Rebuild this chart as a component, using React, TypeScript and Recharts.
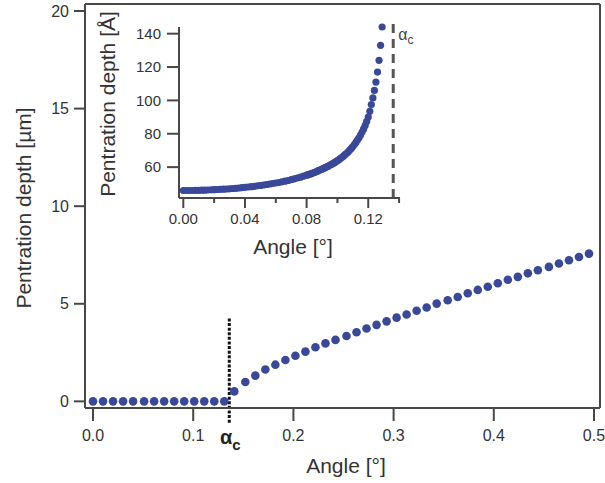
import React from 'react';
import { ScatterChart, Scatter, XAxis, YAxis, ReferenceLine } from 'recharts';

// ---- main panel data ----
const MAIN_ANGLE = [
  0.000, 0.010, 0.020, 0.030, 0.040, 0.051, 0.061, 0.071, 0.081, 0.091,
  0.101, 0.111, 0.121, 0.131, 0.141, 0.152, 0.162, 0.172, 0.182, 0.192,
  0.202, 0.212, 0.222, 0.232, 0.242, 0.253, 0.263, 0.273, 0.283, 0.293,
  0.303, 0.313, 0.323, 0.333, 0.343, 0.354, 0.364, 0.374, 0.384, 0.394,
  0.404, 0.414, 0.424, 0.434, 0.444, 0.455, 0.465, 0.475, 0.485, 0.495,
];
const MAIN_DEPTH = [
  0, 0, 0, 0, 0, 0, 0, 0, 0, 0,
  0, 0, 0, 0, 0.51, 0.99, 1.32, 1.63, 1.88, 2.12,
  2.34, 2.55, 2.77, 2.97, 3.15, 3.35, 3.54, 3.73, 3.92, 4.10,
  4.29, 4.45, 4.64, 4.81, 5.01, 5.18, 5.35, 5.54, 5.71, 5.87,
  6.05, 6.23, 6.38, 6.56, 6.72, 6.89, 7.06, 7.23, 7.40, 7.57,
];
const MAIN_X_TICKS = [0, 0.1, 0.2, 0.3, 0.4, 0.5];
const MAIN_Y_TICKS = [0, 5, 10, 15, 20];
const ALPHA_C = 0.136;

// ---- inset data ----
const INSET_ANGLE = [
  0.000, 0.002, 0.004, 0.006, 0.008, 0.010, 0.012, 0.014, 0.016, 0.018,
  0.020, 0.022, 0.024, 0.026, 0.028, 0.030, 0.032, 0.034, 0.036, 0.038,
  0.040, 0.042, 0.044, 0.046, 0.048, 0.050, 0.052, 0.054, 0.056, 0.058,
  0.060, 0.062, 0.064, 0.066, 0.068, 0.070, 0.072, 0.074, 0.076, 0.078,
  0.080, 0.081, 0.082, 0.083, 0.084, 0.085, 0.086, 0.087, 0.088, 0.089,
  0.090, 0.091, 0.092, 0.093, 0.094, 0.095, 0.096, 0.097, 0.098, 0.099,
  0.100, 0.101, 0.102, 0.103, 0.104, 0.105, 0.106, 0.107, 0.108, 0.109,
  0.110, 0.111, 0.112, 0.113, 0.114, 0.115, 0.116, 0.117, 0.118, 0.119,
  0.120, 0.121, 0.122, 0.123, 0.124, 0.125, 0.126, 0.127, 0.128, 0.129,
];
const INSET_DEPTH = [
  46.0, 46.0, 46.0, 46.0, 46.1, 46.1, 46.2, 46.2, 46.3, 46.4,
  46.5, 46.6, 46.7, 46.8, 46.9, 47.0, 47.2, 47.3, 47.5, 47.7,
  47.9, 48.1, 48.3, 48.5, 48.8, 49.0, 49.3, 49.6, 49.9, 50.2,
  50.5, 50.8, 51.2, 51.6, 52.0, 52.5, 53.0, 53.5, 54.0, 54.6,
  55.2, 55.5, 55.8, 56.1, 56.5, 56.8, 57.2, 57.6, 58.0, 58.4,
  58.8, 59.2, 59.7, 60.1, 60.6, 61.1, 61.6, 62.1, 62.7, 63.3,
  63.9, 64.5, 65.2, 65.9, 66.7, 67.5, 68.3, 69.2, 70.2, 71.2,
  72.3, 73.5, 74.8, 76.2, 77.6, 79.2, 81.0, 82.9, 85.0, 87.4,
  90.0, 93.5, 97.5, 101.5, 106, 111, 117, 124, 133, 144,
];
const INSET_X_TICKS = [0, 0.02, 0.04, 0.06, 0.08, 0.1, 0.12, 0.14];
const INSET_X_MAJOR = [0, 0.04, 0.08, 0.12];
const INSET_Y_TICKS = [60, 80, 100, 120, 140];

const FONT = '"Liberation Sans", Arial, Helvetica, sans-serif';
const AX = '#4a4744';
const TXT = '#333333';
const DOT = '#3a4899';

const mainData = MAIN_ANGLE.map((x, i) => ({ x, y: MAIN_DEPTH[i] }));
const insetData = INSET_ANGLE.map((x, i) => ({ x, y: INSET_DEPTH[i] }));

const MainDot = (p: any) => <circle cx={p.cx} cy={p.cy} r={4.3} fill={DOT} />;
const InsetDot = (p: any) => <circle cx={p.cx} cy={p.cy} r={3.6} fill={DOT} />;

const InsetXTick = (props: any) => {
  const { x, y, payload } = props;
  const major = INSET_X_MAJOR.some((m) => Math.abs(m - payload.value) < 1e-9);
  return (
    <g>
      <line x1={x} x2={x} y1={y} y2={y + (major ? 10 : 5)} stroke={AX} strokeWidth={2} />
      {major && (
        <text x={x} y={y + 15} dy="0.71em" textAnchor="middle" fill={TXT} fontSize={15} fontFamily={FONT}>
          {payload.value.toFixed(2)}
        </text>
      )}
    </g>
  );
};

const mainYLabel = () => (
  <text transform="translate(23,208) rotate(-90)" textAnchor="middle" dominantBaseline="central"
    fill={TXT} fontSize={21} fontFamily={FONT}>
    Pentration depth [µm]
  </text>
);
const mainXLabel = () => (
  <text x={346} y={473} textAnchor="middle" fill={TXT} fontSize={21} fontFamily={FONT}>
    Angle [°]
  </text>
);
const insetYLabel = () => (
  <text transform="translate(107,104) rotate(-90)" textAnchor="middle" dominantBaseline="central"
    fill={TXT} fontSize={21} fontFamily={FONT}>
    Pentration depth [Å]
  </text>
);
const insetXLabel = () => (
  <text x={293} y={254} textAnchor="middle" fill={TXT} fontSize={21} fontFamily={FONT}>
    Angle [°]
  </text>
);

const mainAlphaLabel = (props: any) => {
  const vb = props.viewBox || {};
  const x = vb.x ?? 229;
  const bottom = (vb.y ?? 318) + (vb.height ?? 105);
  return (
    <text x={x + 1} y={bottom + 21} textAnchor="middle" fill="#222" fontFamily={FONT} fontWeight="bold">
      <tspan fontSize={20}>α</tspan>
      <tspan fontSize={15} dy={6}>c</tspan>
    </text>
  );
};
const insetAlphaLabel = (props: any) => {
  const vb = props.viewBox || {};
  const x = vb.x ?? 393;
  const top = vb.y ?? 20;
  return (
    <text x={x + 5} y={top + 20} fill="#444" fontFamily={FONT}>
      <tspan fontSize={16}>α</tspan>
      <tspan fontSize={12} dy={4}>c</tspan>
    </text>
  );
};

export default function App() {
  return (
    <div style={{ position: 'absolute', left: 0, top: 0, width: 605, height: 483, background: '#fff' }}>
      <div style={{ position: 'absolute', left: 0, top: 0 }}>
        <ScatterChart width={605} height={483} margin={{ top: 4, right: 5, bottom: 0, left: 0 }}>
          <XAxis
            type="number"
            dataKey="x"
            domain={[-0.008, 0.506]}
            ticks={MAIN_X_TICKS}
            tickFormatter={(v: number) => v.toFixed(1)}
            height={75}
            tickSize={13}
            tickMargin={9}
            axisLine={{ stroke: AX, strokeWidth: 2 }}
            tickLine={{ stroke: AX, strokeWidth: 2 }}
            tick={{ fill: TXT, fontSize: 16, fontFamily: FONT }}
            label={mainXLabel}
          />
          <YAxis
            type="number"
            dataKey="y"
            domain={[-0.34, 20.36]}
            ticks={MAIN_Y_TICKS}
            width={85}
            tickSize={11}
            tickMargin={5}
            axisLine={{ stroke: AX, strokeWidth: 2 }}
            tickLine={{ stroke: AX, strokeWidth: 2 }}
            tick={{ fill: TXT, fontSize: 16, fontFamily: FONT }}
            label={mainYLabel}
          />
          <ReferenceLine y={20.36} stroke={AX} strokeWidth={2} />
          <ReferenceLine x={0.506} stroke={AX} strokeWidth={2} />
          <ReferenceLine
            segment={[{ x: ALPHA_C, y: -1.09 }, { x: ALPHA_C, y: 4.3 }]}
            ifOverflow="visible"
            stroke="#111"
            strokeWidth={3}
            strokeDasharray="3 1.6"
            label={mainAlphaLabel}
          />
          <Scatter data={mainData} shape={MainDot} isAnimationActive={false} />
        </ScatterChart>
      </div>
      <div style={{ position: 'absolute', left: 0, top: 0 }}>
        <ScatterChart width={420} height={270} margin={{ top: 27, right: 20, bottom: 0, left: 0 }}>
          <XAxis
            type="number"
            dataKey="x"
            domain={[-0.0028, 0.1406]}
            ticks={INSET_X_TICKS}
            height={72}
            tickSize={0}
            tickMargin={0}
            tickLine={false}
            axisLine={{ stroke: AX, strokeWidth: 2 }}
            tick={<InsetXTick />}
            interval={0}
            label={insetXLabel}
          />
          <YAxis
            type="number"
            dataKey="y"
            domain={[41.5, 144]}
            ticks={INSET_Y_TICKS}
            width={179}
            tickSize={12}
            tickMargin={6}
            axisLine={{ stroke: AX, strokeWidth: 2 }}
            tickLine={{ stroke: AX, strokeWidth: 2 }}
            tick={{ fill: TXT, fontSize: 15, fontFamily: FONT }}
            label={insetYLabel}
          />
          <ReferenceLine
            segment={[{ x: 0.1362, y: 41.5 }, { x: 0.1362, y: 148 }]}
            ifOverflow="visible"
            stroke="#555"
            strokeWidth={3}
            strokeDasharray="9 6"
            label={insetAlphaLabel}
          />
          <Scatter data={insetData} shape={InsetDot} isAnimationActive={false} />
        </ScatterChart>
      </div>
    </div>
  );
}
